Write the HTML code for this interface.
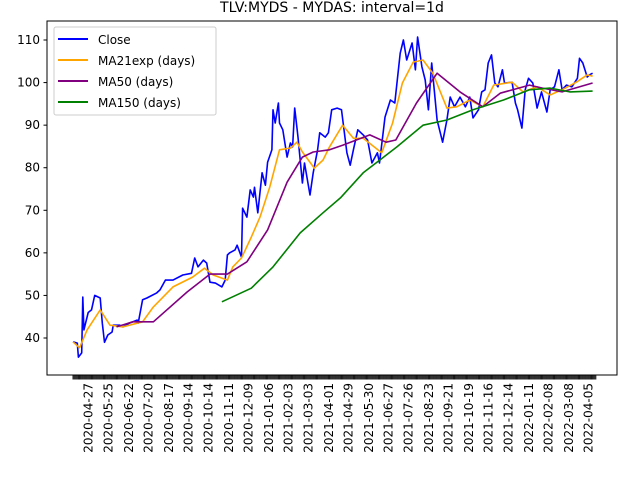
<!DOCTYPE html>
<html><head><meta charset="utf-8"><style>
html,body{margin:0;padding:0;background:#fff;}
svg{display:block;font-family:"DejaVu Sans","Liberation Sans",sans-serif;}
</style></head><body>
<svg id="chart" width="640" height="480" viewBox="0 0 640 480" xmlns="http://www.w3.org/2000/svg">
<rect width="640" height="480" fill="#fff"/>
<text x="332" y="12" font-size="14" text-anchor="middle">TLV:MYDS - MYDAS: interval=1d</text>
<g id="plot"></g>
<rect x="47" y="21" width="570" height="354" fill="none" stroke="#000" stroke-width="1"/>
<g>
<rect x="54" y="27" width="162" height="88" fill="#fff" fill-opacity="0.8" stroke="#ccc" rx="2"/>
<line x1="58" y1="39" x2="88" y2="39" stroke="blue" stroke-width="2"/><text x="98" y="44" font-size="12">Close</text>
<line x1="58" y1="60" x2="88" y2="60" stroke="orange" stroke-width="2"/><text x="98" y="65" font-size="12">MA21exp (days)</text>
<line x1="58" y1="81" x2="88" y2="81" stroke="purple" stroke-width="2"/><text x="98" y="86" font-size="12">MA50 (days)</text>
<line x1="58" y1="102" x2="88" y2="102" stroke="green" stroke-width="2"/><text x="98" y="107" font-size="12">MA150 (days)</text>
</g>
</svg>
<script>
const tickLabels=["2020-04-27","2020-05-25","2020-06-22","2020-07-20","2020-08-17","2020-09-14","2020-10-14","2020-11-11","2020-12-09","2021-01-06","2021-02-03","2021-03-03","2021-04-01","2021-04-29","2021-05-30","2021-06-27","2021-07-26","2021-08-23","2021-09-21","2021-10-19","2021-11-16","2021-12-14","2022-01-11","2022-02-08","2022-03-08","2022-04-05"];
const tickDays=[14,32,51,69,88,106,124,143,161,180,198,216,235,253,272,290,308,327,345,364,382,400,419,437,456,474];
const yTicks=[40,50,60,70,80,90,100,110];
const closeDays=[0,4,5,8,9,10,14,17,20,25,27,29,32,36,37,43,46,52,59,60,64,68,77,80,85,92,101,109,112,115,120,123,126,131,137,140,142,144,149,151,155,156,160,163,166,167,170,174,177,179,183,184,186,189,190,193,197,200,202,204,207,211,213,218,221,225,227,232,235,238,243,247,252,255,258,262,267,271,275,280,282,287,292,296,301,304,307,312,315,317,321,324,327,330,335,340,344,347,351,356,361,365,368,373,376,379,382,385,388,391,395,397,404,407,409,413,416,419,423,427,431,436,439,443,447,450,454,459,464,466,469,473,475,478];
const closeVals=[39.1,38.8,35.5,36.5,49.6,41.9,46,46.6,50,49.4,43.5,39,40.7,41.4,43,43,42.6,43.5,44.2,43.5,49,49.4,50.6,51.3,53.6,53.6,54.8,55.2,58.8,56.7,58.3,57.6,53.1,52.9,52,53.6,59.5,60,60.7,61.8,59,70.5,68.4,74.8,73.1,75.4,69.4,78.8,75.9,81.3,84.2,93.6,90.5,95.2,90.5,88.9,82.5,85.8,84.9,94,87.2,76.4,81.1,73.6,78.8,84.2,88.2,87.2,88.2,93.6,94,93.6,83.5,80.6,84.2,88.9,87.7,86.5,81.1,83.5,81.1,91.9,95.9,95.2,106.9,110,105.3,109.3,103,110.7,103.7,100.6,93.6,104.6,91.2,86,91.2,96.6,94.3,96.6,94.3,96.6,91.7,93.6,97.8,98.3,104.6,106.5,99.9,99,103,99.9,100.1,95.2,93.6,89.3,98.3,101,99.9,94,97.8,93.1,98.3,99,103,98.3,99.4,99,101,105.7,104.6,101.3,101.8,102.2];
const ma21Days=[0,6,13,25,34,46,64,74,92,110,121,129,142,147,155,164,172,181,190,200,206,211,222,230,236,248,258,267,284,294,303,313,322,331,344,353,365,377,387,404,414,427,439,450,463,473,478];
const ma21Vals=[39.1,37.7,41.9,46.6,43,42.6,43.8,47.3,52,54.3,56.4,54.8,53.6,56.7,58.8,63.7,68.4,75.4,84.2,84.6,86,83.7,79.9,81.8,84.9,90,86.9,86.9,83.5,90.5,99.9,104.8,105.3,102.2,94,94.3,95.9,94.3,99.4,100.1,97.8,99,97.1,98.3,100.1,101.8,101.5];
const ma50Days=[40,55,74,105,126,142,160,179,197,211,221,236,248,273,288,297,316,335,356,377,393,420,432,450,478];
const ma50Vals=[42.6,43.8,43.8,50.8,55,55,57.9,65.4,76.6,82.5,83.7,84.2,85.3,87.7,86,86.5,95.2,102.2,97.8,94.3,97.5,99.4,98.7,97.8,99.9];
const ma150Days=[137,164,184,209,230,246,267,298,322,344,368,396,420,439,457,478];
const ma150Vals=[48.5,51.7,56.7,64.7,69.4,72.9,78.8,84.9,90,91.2,93.6,95.9,98.3,98.7,97.8,98];
const lastDay=481;

const NS="http://www.w3.org/2000/svg";
const svg=document.getElementById('chart');
const plot=document.getElementById('plot');
const X=d=>73+d*1.087;
const Y=v=>338-(v-40)*4.257;
function mk(tag,attrs,parent){const e=document.createElementNS(NS,tag);for(const k in attrs)e.setAttribute(k,attrs[k]);(parent||svg).appendChild(e);return e;}
function series(days,vals,color,name){
  const pts=days.map((d,i)=>X(d).toFixed(1)+','+Y(vals[i]).toFixed(1)).join(' ');
  const p=mk('polyline',{points:pts,fill:'none',stroke:color,'stroke-width':1.6,'stroke-linejoin':'round'},plot);
  
  
}
series(closeDays,closeVals,'blue','close-line');
series(ma21Days,ma21Vals,'orange','ma21exp-line');
series(ma50Days,ma50Vals,'purple','ma50-line');
series(ma150Days,ma150Vals,'green','ma150-line');
yTicks.forEach(v=>{
  const y=Y(v);
  mk('line',{x1:43.5,x2:47,y1:y,y2:y,stroke:'#000'});
  const t=mk('text',{x:40,y:y+4,'font-size':12,'text-anchor':'end'});
  
  
  t.textContent=v;
});
let d='';
for(let i=0;i<=lastDay;i++){const x=X(i).toFixed(2);d+='M'+x+' 375V379.5';}
const tk=mk('path',{d:d,stroke:'#000','stroke-width':0.9});


tickDays.forEach((day,i)=>{
  const x=X(day);
  const t=mk('text',{transform:'translate('+(x+4.5)+',383) rotate(-90)','font-size':12,'text-anchor':'end'});
  
  
  t.textContent=tickLabels[i];
});
</script>
</body></html>
